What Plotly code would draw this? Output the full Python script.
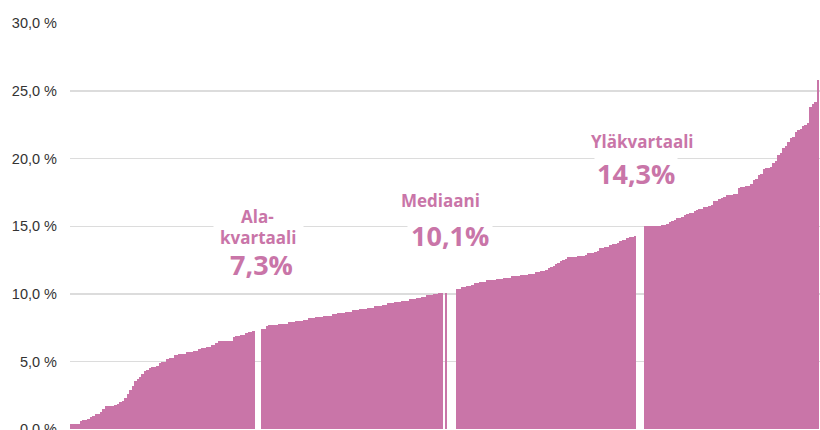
import plotly.graph_objects as go

# Sorted shares (%), split at the quartiles / median
group_low = [0.4, 0.4, 0.4, 0.4, 0.6, 0.7, 0.7, 0.8, 0.9, 1.0,
             1.1, 1.1, 1.3, 1.5, 1.7, 1.7, 1.7, 1.7, 1.8, 1.9,
             2.0, 2.1, 2.3, 2.6, 2.9, 3.2, 3.6, 3.7, 3.9, 4.1,
             4.3, 4.4, 4.5, 4.6, 4.6, 4.7, 4.9, 5.0, 5.0, 5.2,
             5.3, 5.3, 5.5, 5.5, 5.6, 5.6, 5.6, 5.7, 5.7, 5.7,
             5.8, 5.8, 5.9, 6.0, 6.0, 6.1, 6.1, 6.2, 6.2, 6.4,
             6.5, 6.5, 6.5, 6.5, 6.5, 6.5, 6.8, 6.9, 6.9, 7.0,
             7.0, 7.1, 7.2, 7.2, 7.3]
group_mid_low = [7.4, 7.4, 7.6, 7.7, 7.7, 7.7, 7.7, 7.8, 7.8, 7.8,
                 7.8, 7.9, 7.9, 7.9, 8.0, 8.0, 8.0, 8.1, 8.1, 8.2,
                 8.2, 8.2, 8.3, 8.3, 8.3, 8.4, 8.4, 8.4, 8.4, 8.5,
                 8.5, 8.6, 8.6, 8.6, 8.7, 8.7, 8.7, 8.8, 8.8, 8.8,
                 8.9, 8.9, 8.9, 9.0, 9.0, 9.0, 9.1, 9.1, 9.1, 9.2,
                 9.2, 9.3, 9.3, 9.3, 9.4, 9.4, 9.4, 9.5, 9.5, 9.5,
                 9.6, 9.6, 9.6, 9.7, 9.7, 9.8, 9.8, 9.9, 9.9, 9.9,
                 10.0, 10.0, 10.1, 10.1]
median_bar = [10.1]
group_mid_high = [10.4, 10.4, 10.5, 10.5, 10.6, 10.6, 10.7, 10.8, 10.8, 10.9,
                  10.9, 10.9, 11.0, 11.0, 11.0, 11.0, 11.1, 11.1, 11.1, 11.2,
                  11.2, 11.2, 11.3, 11.3, 11.3, 11.3, 11.4, 11.4, 11.4, 11.5,
                  11.5, 11.5, 11.6, 11.6, 11.7, 11.7, 11.8, 11.9, 12.0, 12.1,
                  12.2, 12.3, 12.4, 12.5, 12.6, 12.7, 12.7, 12.7, 12.7, 12.8,
                  12.8, 12.8, 12.9, 13.0, 13.0, 13.0, 13.1, 13.2, 13.4, 13.4,
                  13.5, 13.5, 13.6, 13.7, 13.7, 13.8, 13.9, 14.0, 14.0, 14.1,
                  14.2, 14.2, 14.3]
group_high = [15.0, 15.0, 15.0, 15.0, 15.0, 15.0, 15.0, 15.1, 15.1, 15.2,
              15.3, 15.4, 15.5, 15.6, 15.6, 15.7, 15.8, 15.9, 16.0, 16.0,
              16.1, 16.2, 16.3, 16.3, 16.4, 16.4, 16.5, 16.6, 16.9, 16.9,
              17.0, 17.1, 17.2, 17.3, 17.3, 17.3, 17.4, 17.4, 17.8, 17.9,
              17.9, 18.0, 18.0, 18.1, 18.4, 18.5, 18.8, 18.9, 19.2, 19.3,
              19.3, 19.4, 19.7, 19.8, 20.3, 20.4, 20.8, 20.9, 21.2, 21.5,
              21.6, 22.0, 22.1, 22.2, 22.4, 22.5, 22.6, 23.8, 24.0, 24.2,
              25.8]

tick_values = [0, 5, 10, 15, 20, 25, 30]
tick_labels = ["0,0 %", "5,0 %", "10,0 %", "15,0 %", "20,0 %", "25,0 %", "30,0 %"]

label_titles = ["Ala-", "kvartaali", "Mediaani", "Yläkvartaali"]
label_values = ["7,3%", "10,1%", "14,3%"]

# white separations between groups (in bar widths)
gaps = [2.43, 0.5, 3.8, 3.2]

PINK = "#C975A8"

groups = [group_low, group_mid_low, median_bar, group_mid_high, group_high]
xs, ys = [], []
pos = 0.0
bounds = []
for gi, g in enumerate(groups):
    for v in g:
        xs.append(pos)
        ys.append(v)
        pos += 1
    bounds.append(pos - 0.5)  # right edge of group
    if gi < len(gaps):
        pos += gaps[gi]

fig = go.Figure(go.Bar(x=xs, y=ys, width=1, marker=dict(color=PINK, line=dict(width=0)),
                       hoverinfo="skip"))

q1_x = bounds[0] + gaps[0] / 2
med_x = xs[len(group_low) + len(group_mid_low)]
q3_x = bounds[3] + gaps[3] / 2

def ann(text, x, y, size, xshift=0, pad=1):
    return dict(text=text, x=x, y=y, xref="x", yref="y", showarrow=False,
                xshift=xshift, xanchor="center", yanchor="middle",
                font=dict(family="Open Sans", size=size, color=PINK, weight=700),
                bgcolor="white", borderpad=pad)

annotations = [
    ann(label_titles[1], q1_x, 14.2, 17, xshift=1, pad=6),
    ann(label_titles[0], q1_x, 15.72, 17, xshift=0, pad=0),
    ann(label_values[0], q1_x, 12.17, 27, xshift=4),
    ann(label_titles[2], med_x, 16.9, 17, xshift=-5),
    ann(label_values[1], med_x, 14.35, 27, xshift=4, pad=3),
    ann(label_titles[3], q3_x, 21.25, 17, xshift=2),
    ann(label_values[2], q3_x, 18.9, 27, xshift=-4, pad=2),
]

fig.update_layout(
    width=820, height=430,
    margin=dict(l=70, r=0, t=23, b=0),
    paper_bgcolor="white", plot_bgcolor="white",
    bargap=0, showlegend=False,
    annotations=annotations,
    xaxis=dict(range=[-0.5, xs[-1] + 0.8], visible=False, fixedrange=True),
    yaxis=dict(range=[-0.05, 30.02], tickvals=tick_values, ticktext=tick_labels,
               showgrid=True, gridcolor="#dcdcdc", gridwidth=1.5,
               zeroline=False, showline=False, ticks="",
               ticklabelstandoff=12, automargin=False, ticklabeloverflow="allow",
               fixedrange=True,
               tickfont=dict(family="Liberation Sans", size=14.5, color="#333333")),
)

fig.write_html("out.html", config={"displayModeBar": False, "staticPlot": True},
               post_script="document.body.style.margin='0';")
